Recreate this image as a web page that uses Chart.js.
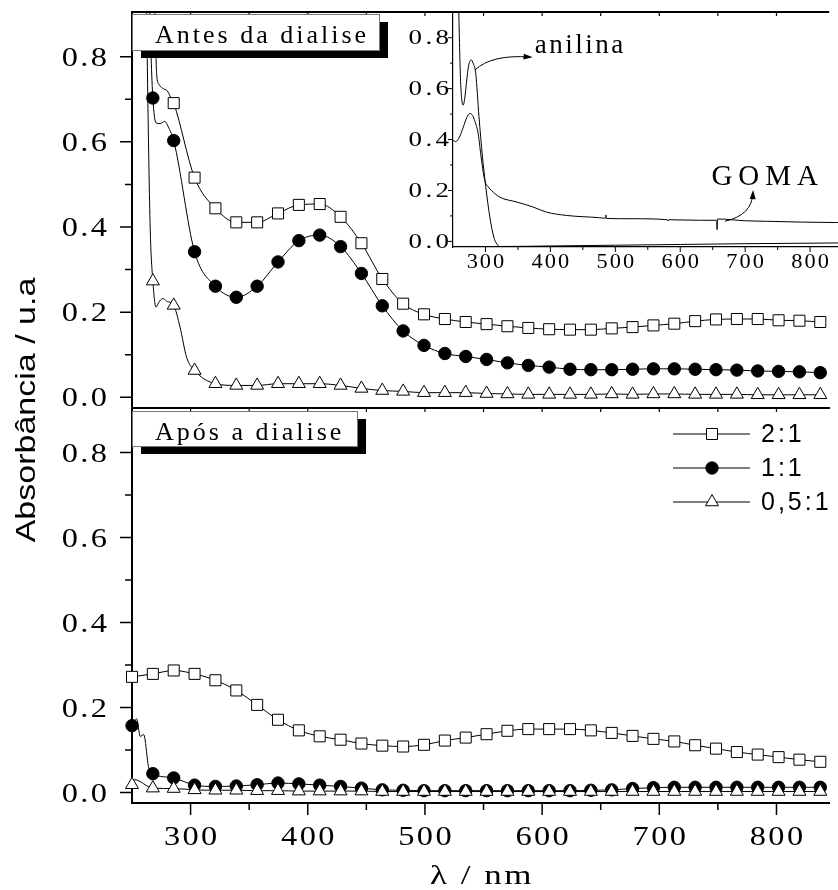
<!DOCTYPE html>
<html>
<head>
<meta charset="utf-8">
<title>Absorbância</title>
<script src="https://cdn.jsdelivr.net/npm/chart.js@4.4.1/dist/chart.umd.min.js"></script>
<style>
  body { margin: 0; background: #fff; }
  #box { position: relative; width: 838px; height: 890px; overflow: hidden; background: #fff; }
  #box canvas { position: absolute; left: 0; top: 0; }
</style>
</head>
<body>
<div id="box">
  <canvas id="cTop" width="838" height="890"></canvas>
  <canvas id="cBot" width="838" height="890"></canvas>
  <canvas id="cIns" width="838" height="890"></canvas>
</div>
<script>
var SERIF = '"Liberation Serif", "Times New Roman", serif';
var SANS = '"Liberation Sans", Arial, sans-serif';

// wavelengths where the markers sit (nm)
var markX = [250, 267.8, 285.6, 303.4, 321.2, 339, 356.8, 374.6, 392.4, 410.2, 428, 445.8, 463.6, 481.4, 499.2, 517, 534.8,
  552.6, 570.4, 588.2, 606, 623.8, 641.6, 659.4, 677.2, 695, 712.8, 730.6, 748.4, 766.2, 784, 801.8, 819.6, 837.4];

// Antes da dialise
var topSq = [1.60, 1.02, 0.691, 0.516, 0.444, 0.411, 0.411, 0.432, 0.452, 0.454, 0.424, 0.362, 0.278, 0.220, 0.195, 0.184, 0.177,
  0.172, 0.167, 0.163, 0.160, 0.159, 0.159, 0.162, 0.165, 0.169, 0.173, 0.179, 0.183, 0.184, 0.184, 0.181, 0.180, 0.177];
var topCi = [1.60, 0.703, 0.603, 0.342, 0.261, 0.235, 0.261, 0.318, 0.368, 0.381, 0.354, 0.291, 0.215, 0.156, 0.122, 0.103, 0.096,
  0.089, 0.081, 0.075, 0.071, 0.066, 0.065, 0.065, 0.066, 0.067, 0.067, 0.066, 0.065, 0.064, 0.062, 0.061, 0.060, 0.058];
var topTr = [1.60, 0.273, 0.216, 0.063, 0.032, 0.028, 0.028, 0.032, 0.032, 0.032, 0.028, 0.021, 0.016, 0.014, 0.011, 0.011, 0.011,
  0.009, 0.008, 0.007, 0.007, 0.007, 0.007, 0.008, 0.007, 0.008, 0.008, 0.007, 0.007, 0.007, 0.006, 0.006, 0.006, 0.006];
// spectrum points between markers (steep start)
var topSqExtra = [[269.8, 0.88], [271, 0.76], [273, 0.735], [276, 0.726], [280, 0.72], [283, 0.705]];
var topCiExtra = [[264.5, 0.98], [266.3, 0.80], [270.4, 0.645], [274, 0.643], [278, 0.648], [281.5, 0.632]];
var topTrExtra = [[262, 1.0], [263.5, 0.70], [265.5, 0.40], [270.5, 0.212], [273.5, 0.226], [276.5, 0.232], [279.5, 0.226],
  [291, 0.165], [296.6, 0.094]];

// Após a dialise
var botSq = [0.272, 0.279, 0.287, 0.279, 0.264, 0.240, 0.206, 0.171, 0.146, 0.132, 0.124, 0.115, 0.110, 0.108, 0.112, 0.122, 0.129,
  0.137, 0.145, 0.149, 0.149, 0.149, 0.146, 0.140, 0.133, 0.126, 0.120, 0.111, 0.103, 0.095, 0.089, 0.083, 0.077, 0.072];
var botCi = [0.157, 0.044, 0.034, 0.017, 0.014, 0.015, 0.018, 0.022, 0.020, 0.017, 0.014, 0.010, 0.006, 0.005, 0.004, 0.004, 0.004,
  0.004, 0.004, 0.004, 0.004, 0.004, 0.005, 0.006, 0.009, 0.011, 0.012, 0.012, 0.012, 0.012, 0.012, 0.012, 0.012, 0.012];
var botTr = [0.018, 0.010, 0.009, 0.006, 0.005, 0.005, 0.004, 0.004, 0.003, 0.003, 0.003, 0.003, 0.002, 0.002, 0.002, 0.002, 0.002,
  0.002, 0.002, 0.002, 0.002, 0.002, 0.002, 0.002, 0.002, 0.002, 0.002, 0.002, 0.002, 0.002, 0.002, 0.002, 0.002, 0.002];
var botCiExtra = [[254, 0.173], [257, 0.132], [260, 0.136], [264.3, 0.057]];
var botTrExtra = [[252, 0.03]];

// inset spectra
var anilinaX = [250, 256, 258.5, 260, 261.5, 263, 265.6, 268, 271, 274, 276.5, 278.5, 281, 285, 290, 295.4, 300.5, 306.7, 312.8,
  318, 322, 400, 500, 600, 700, 800, 843];
var anilinaY = [1.8, 1.2, 0.95, 0.78, 0.64, 0.57, 0.535, 0.56, 0.63, 0.69, 0.71, 0.712, 0.70, 0.66, 0.49, 0.332, 0.214, 0.096, 0.017,
  -0.012, -0.020, -0.018, -0.015, -0.012, -0.009, -0.007, -0.006];
var gomaX = [250, 254, 260, 266, 271, 275.9, 280, 284, 288.7, 293.9, 298.9, 304, 309.3, 322, 347.8, 373.4, 394, 424.8, 476, 484.5,
  485.5, 486.5, 527, 580, 581, 582, 630, 656, 656.8, 657.6, 700, 733, 841, 843];
var gomaY = [0.396, 0.392, 0.41, 0.45, 0.485, 0.503, 0.495, 0.47, 0.424, 0.319, 0.24, 0.215, 0.20, 0.174, 0.155, 0.135, 0.115, 0.102,
  0.093, 0.091, 0.104, 0.090, 0.089, 0.085, 0.080, 0.085, 0.083, 0.083, 0.046, 0.088, 0.081, 0.079, 0.074, 0.074];

var seriesNames = ['2:1', '1:1', '0,5:1'];
var xMajor = [300, 400, 500, 600, 700, 800];
var xMinor = [350, 450, 550, 650, 750];
var yMajor = [0, 0.2, 0.4, 0.6, 0.8];
var yMinor = [0.1, 0.3, 0.5, 0.7];

var markStyle = [
  { pointStyle: 'rect', fill: '#fff', r: 7.8 },
  { pointStyle: 'circle', fill: '#000', r: 6.2 },
  { pointStyle: 'triangle', fill: '#fff', r: 7.5 }
];

function points(ys, extra) {
  var pts = markX.map(function (x, i) { return { x: x, y: ys[i], m: 1 }; });
  (extra || []).forEach(function (p) { pts.push({ x: p[0], y: p[1], m: 0 }); });
  pts.sort(function (a, b) { return a.x - b.x; });
  return pts;
}
function lineOf(xs, ys) {
  return xs.map(function (x, i) { return { x: x, y: ys[i] }; });
}

function series(i, pts) {
  var st = markStyle[i];
  return {
    label: seriesNames[i], data: pts,
    borderColor: '#000', borderWidth: 1,
    pointStyle: st.pointStyle, pointBackgroundColor: st.fill, pointBorderColor: '#000', pointBorderWidth: 1,
    pointRadius: function (c) { return c.raw && c.raw.m ? st.r : 0; },
    pointHoverRadius: 0,
    cubicInterpolationMode: 'monotone', fill: false,
    order: 2 - i, // triangles on top
    clip: { left: 10, top: 0, right: 10, bottom: 10 }
  };
}

// tick labels are drawn by hand (wide Origin-like digits), axes only give positions
function xScale(h, min, max, bw) {
  return {
    type: 'linear', min: min, max: max,
    afterBuildTicks: function (s) { s.ticks = xMajor.map(function (v) { return { value: v }; }); },
    afterFit: function (s) { s.height = h; s.paddingLeft = 0; s.paddingRight = 0; },
    grid: { display: false },
    border: { display: true, color: '#000', width: bw },
    ticks: { display: false }
  };
}
function yScale(w, min, max, bw) {
  return {
    min: min, max: max,
    afterBuildTicks: function (s) { s.ticks = yMajor.map(function (v) { return { value: v }; }); },
    afterFit: function (s) { s.width = w; s.paddingTop = 0; s.paddingBottom = 0; },
    grid: { display: false },
    border: { display: true, color: '#000', width: bw },
    ticks: { display: false }
  };
}

function tickMarks(ctx, scale, values, len, y0, w) {
  var area = scale.chart.chartArea;
  ctx.save();
  ctx.strokeStyle = '#000';
  ctx.lineWidth = w;
  ctx.beginPath();
  values.forEach(function (v) {
    var p = scale.getPixelForValue(v);
    if (scale.axis === 'y') { ctx.moveTo(area.left, p); ctx.lineTo(area.left - len, p); }
    else { ctx.moveTo(p, y0); ctx.lineTo(p, y0 + len); }
  });
  ctx.stroke();
  ctx.restore();
}

function tickLabels(ctx, scale, o) {
  ctx.save();
  ctx.fillStyle = '#000';
  ctx.font = o.size + 'px ' + SERIF;
  ctx.letterSpacing = o.gap + 'px';
  ctx.textBaseline = 'alphabetic';
  scale.ticks.forEach(function (t) {
    var p = scale.getPixelForValue(t.value);
    var text = scale.axis === 'y' ? t.value.toFixed(1) : String(t.value);
    ctx.save();
    if (scale.axis === 'y') {
      ctx.translate(o.edge + o.gap * o.sx, p + o.size * 0.338);
      ctx.textAlign = 'right';
    } else {
      ctx.translate(p + o.gap * o.sx / 2, o.base);
      ctx.textAlign = 'center';
    }
    ctx.scale(o.sx, 1);
    ctx.fillText(text, 0, 0);
    ctx.restore();
  });
  ctx.restore();
}

function labelBox(ctx, x0, y0, x1, y1, text, tx, ty) {
  ctx.save();
  ctx.fillStyle = '#000';
  ctx.fillRect(x0 + 9, y0 + 8, x1 - x0, y1 - y0);
  ctx.fillStyle = '#fff';
  ctx.fillRect(x0, y0, x1 - x0, y1 - y0);
  ctx.strokeStyle = '#777';
  ctx.lineWidth = 1;
  ctx.strokeRect(x0 + 0.5, y0 + 0.5, x1 - x0, y1 - y0);
  ctx.fillStyle = '#000';
  ctx.font = '26px ' + SERIF;
  ctx.letterSpacing = '3px';
  ctx.textAlign = 'left';
  ctx.textBaseline = 'alphabetic';
  ctx.fillText(text, tx, ty);
  ctx.restore();
}

function drawMarker(ctx, st, x, y) {
  ctx.beginPath();
  if (st.pointStyle === 'rect') {
    var s = st.r * Math.SQRT1_2;
    ctx.rect(x - s, y - s, 2 * s, 2 * s);
  } else if (st.pointStyle === 'circle') {
    ctx.arc(x, y, st.r, 0, Math.PI * 2);
  } else {
    ctx.moveTo(x, y - st.r);
    ctx.lineTo(x + st.r * 0.866, y + st.r * 0.5);
    ctx.lineTo(x - st.r * 0.866, y + st.r * 0.5);
    ctx.closePath();
  }
  ctx.fillStyle = st.fill;
  ctx.fill();
  ctx.strokeStyle = '#000';
  ctx.lineWidth = 1;
  ctx.stroke();
}

function arrow(ctx, sx, sy, cx, cy, ex, ey) {
  ctx.beginPath();
  ctx.moveTo(sx, sy);
  ctx.quadraticCurveTo(cx, cy, ex, ey);
  ctx.stroke();
  var a = Math.atan2(ey - cy, ex - cx);
  ctx.beginPath();
  ctx.moveTo(ex + 3 * Math.cos(a), ey + 3 * Math.sin(a));
  ctx.lineTo(ex - 6 * Math.cos(a) + 3 * Math.sin(a), ey - 6 * Math.sin(a) - 3 * Math.cos(a));
  ctx.lineTo(ex - 6 * Math.cos(a) - 3 * Math.sin(a), ey - 6 * Math.sin(a) + 3 * Math.cos(a));
  ctx.closePath();
  ctx.fill();
}

var common = {
  responsive: false, animation: false, events: [],
  plugins: { legend: { display: false }, tooltip: { enabled: false } }
};

// top panel
new Chart(document.getElementById('cTop'), {
  type: 'line',
  data: { datasets: [series(0, points(topSq, topSqExtra)), series(1, points(topCi, topCiExtra)), series(2, points(topTr, topTrExtra))] },
  options: Object.assign({}, common, {
    layout: { padding: { left: 0, top: 12, right: 0, bottom: 482 } },
    scales: { x: xScale(0, 250, 845, 2), y: yScale(132, -0.025, 0.905, 2) }
  }),
  plugins: [{
    id: 'topDeco',
    afterDraw: function (c) {
      var ctx = c.ctx, a = c.chartArea;
      tickMarks(ctx, c.scales.y, yMajor, 12, 0, 1.5);
      tickMarks(ctx, c.scales.y, yMinor, 7, 0, 1.5);
      tickMarks(ctx, c.scales.x, xMajor.concat(xMinor), 4, a.top, 1.2);
      tickMarks(ctx, c.scales.x, xMajor.concat(xMinor), 4, a.bottom, 1.2);
      tickLabels(ctx, c.scales.y, { size: 27, gap: 2, sx: 1.2, edge: 107 });
      ctx.save();
      ctx.strokeStyle = '#000';
      ctx.lineWidth = 2;
      ctx.beginPath();
      ctx.moveTo(a.left, a.top);
      ctx.lineTo(a.right, a.top);
      ctx.stroke();
      ctx.restore();
      labelBox(ctx, 132, 14, 379, 50, 'Antes da dialise', 155, 43);
    }
  }]
});

// bottom panel
new Chart(document.getElementById('cBot'), {
  type: 'line',
  data: { datasets: [series(0, points(botSq)), series(1, points(botCi, botCiExtra)), series(2, points(botTr, botTrExtra))] },
  options: Object.assign({}, common, {
    layout: { padding: { left: 0, top: 408, right: 0, bottom: 0 } },
    scales: { x: xScale(87, 250, 845, 2), y: yScale(132, -0.025, 0.905, 2) }
  }),
  plugins: [{
    id: 'botDeco',
    afterDraw: function (c) {
      var ctx = c.ctx, a = c.chartArea;
      tickMarks(ctx, c.scales.y, yMajor, 12, 0, 1.5);
      tickMarks(ctx, c.scales.y, yMinor, 7, 0, 1.5);
      tickMarks(ctx, c.scales.x, xMajor, 12, a.bottom, 1.5);
      tickMarks(ctx, c.scales.x, xMinor, 7, a.bottom, 1.5);
      tickLabels(ctx, c.scales.y, { size: 27, gap: 2, sx: 1.2, edge: 107 });
      tickLabels(ctx, c.scales.x, { size: 27, gap: 2, sx: 1.2, base: 845 });
      labelBox(ctx, 132, 411, 357, 446, 'Após a dialise', 155, 440);

      // legend
      var rows = [434, 468, 502];
      ctx.save();
      c.data.datasets.forEach(function (d, i) {
        var y = rows[i];
        ctx.strokeStyle = '#000';
        ctx.lineWidth = 1;
        ctx.beginPath();
        ctx.moveTo(673, y);
        ctx.lineTo(750, y);
        ctx.stroke();
        drawMarker(ctx, markStyle[i], 712, y);
        ctx.fillStyle = '#000';
        ctx.font = '25px ' + SANS;
        ctx.letterSpacing = '3px';
        ctx.textAlign = 'left';
        ctx.textBaseline = 'middle';
        ctx.fillText(d.label, 761, y + 1);
      });
      ctx.restore();

      // axis titles
      ctx.save();
      ctx.fillStyle = '#000';
      ctx.font = '28px ' + SERIF;
      ctx.letterSpacing = '2px';
      ctx.textAlign = 'left';
      ctx.textBaseline = 'alphabetic';
      ctx.translate(430, 884);
      ctx.scale(1.25, 1);
      ctx.fillText('λ / nm', 0, 0);
      ctx.restore();

      ctx.save();
      ctx.fillStyle = '#000';
      ctx.font = '34px ' + SANS;
      ctx.letterSpacing = '0px';
      ctx.translate(35, 410);
      ctx.rotate(-Math.PI / 2);
      ctx.scale(1, 0.83);
      ctx.textAlign = 'center';
      ctx.textBaseline = 'alphabetic';
      ctx.fillText('Absorbância / u.a', 0, 0);
      ctx.restore();
    }
  }]
});

// inset
new Chart(document.getElementById('cIns'), {
  type: 'line',
  data: {
    datasets: [
      { label: 'anilina', data: lineOf(anilinaX, anilinaY) },
      { label: 'GOMA', data: lineOf(gomaX, gomaY) }
    ].map(function (d) {
      return Object.assign(d, { borderColor: '#000', borderWidth: 1, pointRadius: 0, pointHoverRadius: 0,
        cubicInterpolationMode: 'monotone', fill: false, clip: 0 });
    })
  },
  options: Object.assign({}, common, {
    layout: { padding: { left: 401, top: 12, right: 0, bottom: 613 } },
    scales: { x: xScale(30, 250, 843, 1.2), y: yScale(52, -0.022, 0.901, 1.2) }
  }),
  plugins: [{
    id: 'insDeco',
    afterDraw: function (c) {
      var ctx = c.ctx, a = c.chartArea, sx = c.scales.x, sy = c.scales.y;
      tickMarks(ctx, sy, yMajor, 5, 0, 1);
      tickMarks(ctx, sy, yMinor, 3, 0, 1);
      tickMarks(ctx, sx, xMajor, 5, a.bottom, 1);
      tickMarks(ctx, sx, xMinor, 3, a.bottom, 1);
      tickLabels(ctx, sy, { size: 20, gap: 2.5, sx: 1.35, edge: 449 });
      tickLabels(ctx, sx, { size: 20, gap: 1.8, sx: 1.12, base: 268 });

      function px(v) { return sx.getPixelForValue(v); }
      function py(v) { return sy.getPixelForValue(v); }
      ctx.save();
      ctx.strokeStyle = '#000';
      ctx.fillStyle = '#000';
      ctx.lineWidth = 1;
      arrow(ctx, px(283.6), py(0.673), px(309.8), py(0.735), px(368), py(0.724));
      arrow(ctx, px(668.8), py(0.079), px(710.5), py(0.103), px(712), py(0.19));
      ctx.font = '27px ' + SERIF;
      ctx.letterSpacing = '2.5px';
      ctx.textAlign = 'left';
      ctx.textBaseline = 'alphabetic';
      ctx.fillText('anilina', px(376), py(0.741));
      ctx.font = '29px ' + SERIF;
      ctx.letterSpacing = '6px';
      ctx.fillText('GOMA', px(648), py(0.22));
      ctx.restore();
    }
  }]
});
</script>
</body>
</html>
